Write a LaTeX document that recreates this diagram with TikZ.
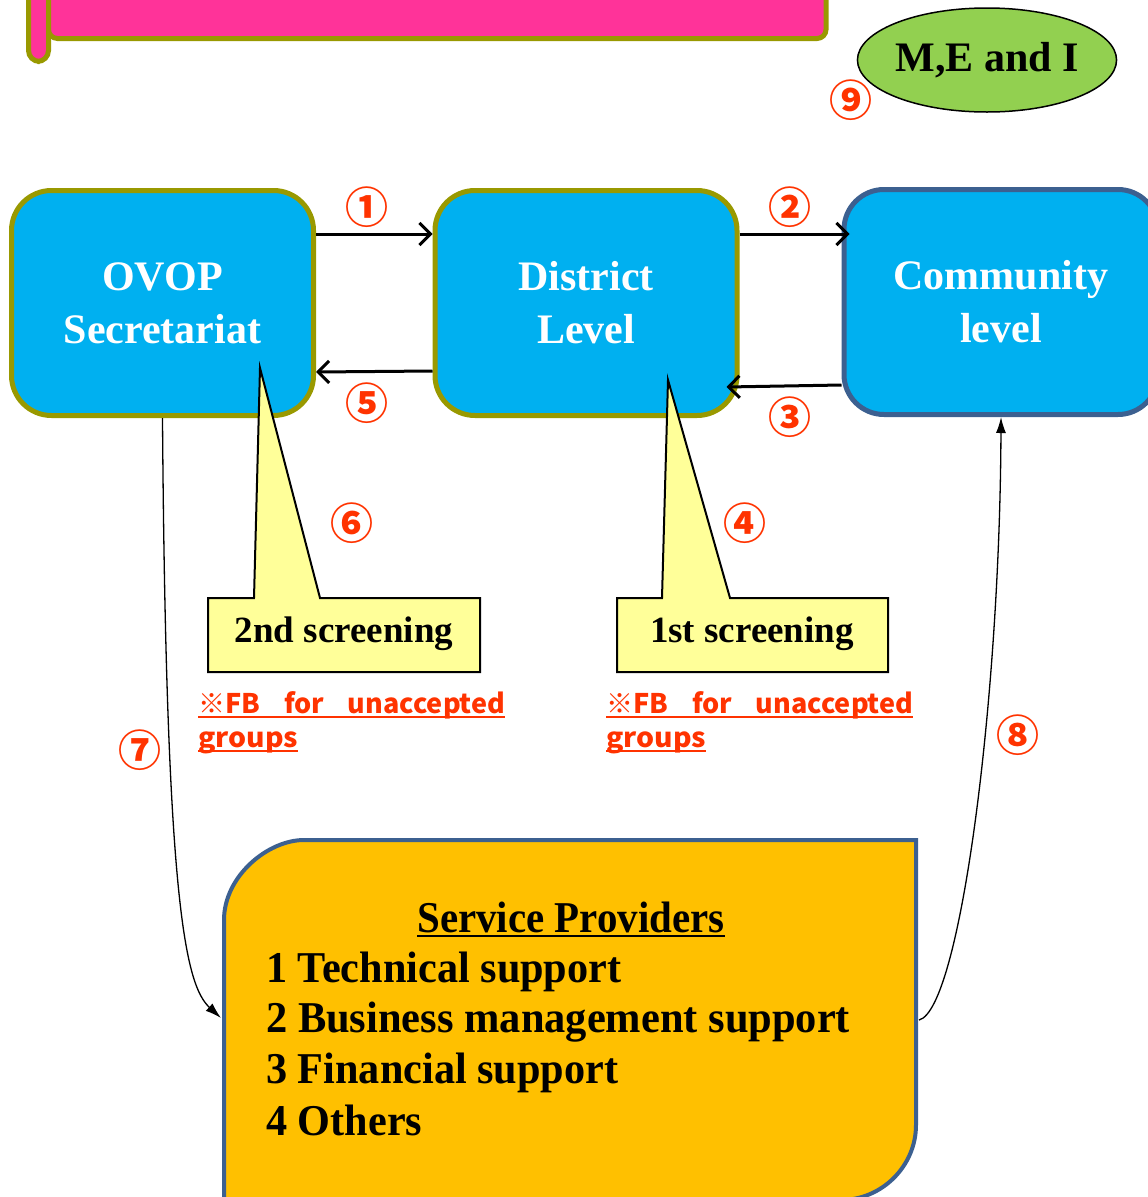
\documentclass[tikz,border=0pt]{standalone}
\usepackage{fontspec}
\setmainfont{Liberation Serif}
\newfontfamily\jpfont{Noto Sans CJK JP}
\usetikzlibrary{shapes.geometric,arrows.meta,calc}
\definecolor{boxblue}{HTML}{00B0F0}
\definecolor{olivebd}{HTML}{999900}
\definecolor{steel}{HTML}{3C6090}
\definecolor{callyellow}{HTML}{FFFF99}
\definecolor{numred}{HTML}{FF3300}
\definecolor{bannermag}{HTML}{FF3399}
\definecolor{megreen}{HTML}{92D050}
\definecolor{spgold}{HTML}{FFC000}
\begin{document}
\begin{tikzpicture}[x=1pt,y=-1pt,
  level/.style={draw=olivebd, rounded corners=40pt, fill=boxblue, line width=5pt,
    minimum width=302pt, minimum height=225pt, text=white,
    font=\fontsize{42}{53}\selectfont\bfseries, align=center},
  flow/.style={line width=3pt, -{Straight Barb[length=11pt,width=22pt,line width=3pt]}},
  thinflow/.style={line width=1.3pt, -{Latex[length=16pt,width=10pt]}},
  num/.style={text=numred, font=\jpfont\bfseries\fontsize{43}{43}\selectfont, inner sep=0pt},
  callout/.style={draw=black, line width=2pt, fill=callyellow, line join=miter},
  calltext/.style={font=\fontsize{37}{40}\selectfont\bfseries, inner sep=0pt},
  note/.style={text=numred, font=\jpfont\bfseries\fontsize{27}{27}\selectfont, inner sep=0pt, anchor=base west},
  splist/.style={font=\fontsize{44}{51}\selectfont\bfseries, inner sep=0pt, anchor=base west}
]
\useasboundingbox (0,0) rectangle (1148,1197);

% banner
\draw[draw=olivebd, fill=bannermag, line width=5pt, rounded corners=11pt] (28.5,-40) rectangle (48.5,61.5);
\draw[draw=olivebd, fill=bannermag, line width=5pt, rounded corners=9pt] (48.5,-60) rectangle (826,38.5);

% M,E and I
\node[ellipse, draw=black, line width=1.5pt, fill=megreen, minimum width=256pt, minimum height=104pt,
  inner sep=0pt, font=\fontsize{42}{42}\selectfont\bfseries] (mei) at (987,60) {M,E and I};
\node[num] (n9) at (851,100) {⑨};

% level boxes
\node[level] (ovop) at (162.5,303) {OVOP\\Secretariat};
\node[level] (district) at (586,303) {District\\Level};
\node[level, draw=steel, minimum width=314pt] (community) at (1001,302) {Community\\level};

% horizontal flows
\draw[flow] (ovop.east |- 0,234) -- (district.west |- 0,234);
\draw[flow] (district.east |- 0,234) -- ($(community.west |- 0,234)+(8,0)$);
\draw[flow] (district.west |- 0,371) -- (ovop.east |- 0,372);
\draw[flow] (community.west |- 0,385) -- ($(district.east |- 0,387)+(-13,0)$);
\node[num] (n1) at (367,207) {①};
\node[num] (n2) at (790,207) {②};
\node[num] (n5) at (367,403) {⑤};
\node[num] (n3) at (790,417) {③};

% callouts
\draw[callout] (208,598) -- (254,598) -- (260,368) -- (320,598) -- (480,598) -- (480,672) -- (208,672) -- cycle;
\node[calltext] (s2) at (344,634) {2nd screening};
\draw[callout] (617,598) -- (662,598) -- (668,380) -- (730,598) -- (888,598) -- (888,672) -- (617,672) -- cycle;
\node[calltext] (s1) at (752,634) {1st screening};
\node[num] (n6) at (352,523) {⑥};
\node[num] (n4) at (745,523) {④};

% notes
\node[note] (fa1) at (198,713) {\makebox[307pt][s]{※FB for unaccepted}};
\node[note] (fa2) at (198,747) {\scalebox{1.05}[1]{groups}};
\node[note] (fb1) at (606,713) {\makebox[307pt][s]{※FB for unaccepted}};
\node[note] (fb2) at (606,747) {\scalebox{1.05}[1]{groups}};
\foreach \n in {fa1,fa2,fb1,fb2}
  \draw[numred, line width=1.8pt] ($(\n.base west)+(0,4)$) -- ($(\n.base east)+(0,4)$);

% service providers box
\draw[draw=steel, fill=spgold, line width=4pt]
  (224,1210) -- (224,920) .. controls (224,876) and (268,840) .. (304,840)
  -- (916,840) -- (916,1125) .. controls (916,1166) and (882,1200) .. (841,1200) -- (224,1210);
\coordinate (spL) at (221,1018);
\coordinate (spR) at (919,1020);
\node[inner sep=0pt, font=\fontsize{44}{44}\selectfont\bfseries, anchor=base] (sptitle) at (571,932)
  {\scalebox{0.93}[1]{Service Providers}};
\draw[line width=2pt] ($(sptitle.base west)+(0,4)$) -- ($(sptitle.base east)+(0,4)$);
\node[splist] (sp1) at (266,982) {\scalebox{0.96}[1]{1 Technical support}};
\node[splist] (sp2) at (266,1032) {\scalebox{0.965}[1]{2 Business management support}};
\node[splist] (sp3) at (266,1083) {\scalebox{0.96}[1]{3 Financial support}};
\node[splist] (sp4) at (266,1135) {\scalebox{0.96}[1]{4 Others}};

% curved flows
\draw[thinflow] (ovop.south) .. controls (166,900) and (185,985) .. (spL);
\draw[thinflow] (spR) .. controls (960,1010) and (1000,700) .. (community.south);
\node[num] (n7) at (140,750) {⑦};
\node[num] (n8) at (1018,735) {⑧};
\end{tikzpicture}
\end{document}
